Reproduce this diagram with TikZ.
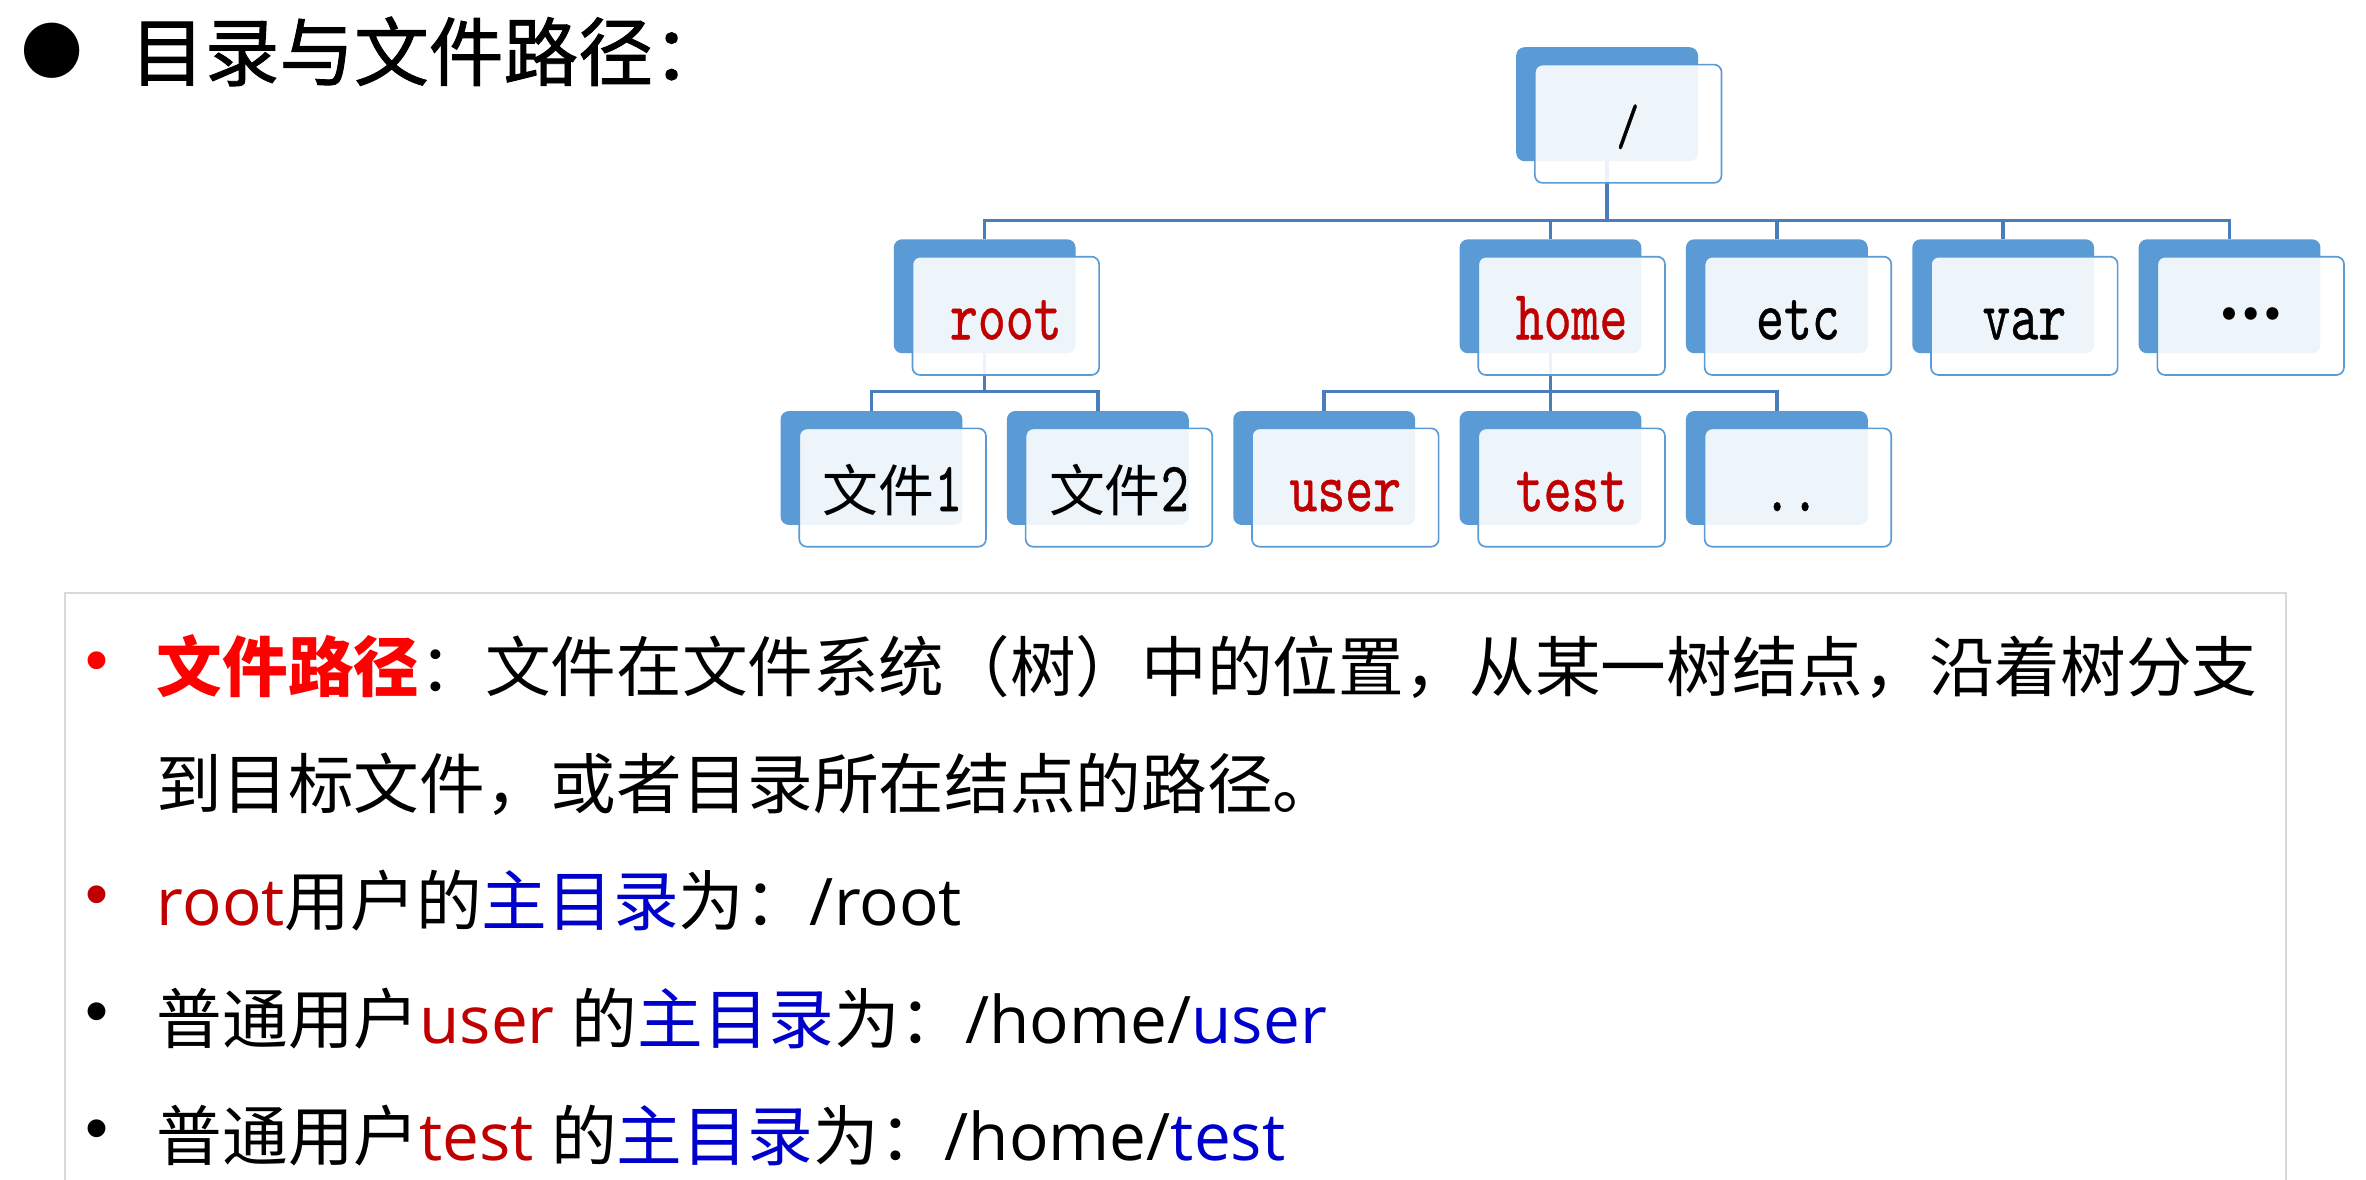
\documentclass[tikz,border=0pt]{standalone}
\usepackage{fontspec}
\newfontfamily\cjk{Noto Sans CJK SC}
\newfontfamily\cjktitle{Noto Sans CJK SC}[FakeBold=1.2]
\newfontfamily\lat{Open Sans}
\newfontfamily\boxtt{lmmono10-regular.otf}[FakeStretch=0.75,FakeBold=0.6]
\newfontfamily\dejavu{DejaVu Sans}
\newfontfamily\libsans{Liberation Sans}
\usetikzlibrary{backgrounds}
\definecolor{boxblue}{HTML}{5B9BD5}
\definecolor{connblue}{HTML}{4A7EBB}
\definecolor{pred}{HTML}{FF0000}
\definecolor{dred}{HTML}{C00000}
\definecolor{blu}{HTML}{0000CC}
\definecolor{framegray}{HTML}{D9D9D9}
\tikzset{
  backbox/.style={rectangle, rounded corners=5.5pt, fill=boxblue, minimum width=120.5pt, minimum height=75.5pt, inner sep=0pt, outer sep=0pt, anchor=north west},
  frontbox/.style={rectangle, rounded corners=5pt, fill=white, fill opacity=0.9, draw=boxblue, line width=1.1pt, minimum width=123.7pt, minimum height=78.4pt, inner sep=0pt, outer sep=0pt, anchor=north west},
  lbl/.style={anchor=base, inner sep=0pt, outer sep=0pt, font={\boxtt\fontsize{47}{52}\selectfont}},
  conn/.style={draw=connblue, line width=2.3pt},
  bodyline/.style={anchor=base west, inner sep=0pt, outer sep=0pt, font={\cjk\fontsize{43.5}{50}\selectfont}},
  bul/.style={anchor=center, inner sep=0pt, outer sep=0pt, font={\libsans\fontsize{43.5}{50}\selectfont}},
}
\newcommand\tnode[4]{%
  \node[backbox] (#1B) at (#2,#3) {};
  \node[frontbox] (#1F) at (#2+12.4,#3+11.5) {};
  \node[lbl] (#1T) at (#2+74.25,#3+66.3) {#4};}
\begin{document}
\begin{tikzpicture}[x=1pt,y=-1pt]
\useasboundingbox (0,0) rectangle (1568,782);
% title
\node[anchor=center, inner sep=0pt, font={\dejavu\fontsize{48}{50}\selectfont}] (tbul) at (34.5,33.7) {●};
\node[anchor=base west, inner sep=0pt, font={\cjktitle\fontsize{49.5}{52}\selectfont}] (title) at (86,53) {目录与文件路径：};
% tree
\node[backbox] (slashB) at (1004.8,31.3) {};
\node[frontbox] (slashF) at (1017.2,42.8) {};
\node[anchor=center, inner sep=0pt, font={\boxtt\fontsize{38}{40}\selectfont}] (slashT) at (1078.8,84) {/};
\tnode{root}{592.3}{158.6}{\textcolor{dred}{root}}
\tnode{home}{967.3}{158.6}{\textcolor{dred}{home}}
\tnode{etc}{1117.3}{158.6}{etc}
\tnode{var}{1267.3}{158.6}{var}
\node[backbox] (moreB) at (1417.3,158.6) {};
\node[frontbox] (moreF) at (1429.7,170.1) {};
\node[anchor=center, inner sep=0pt, font={\cjk\bfseries\fontsize{38}{40}\selectfont}] (moreT) at (1491.5,208) {…};
\tnode{fa}{517.3}{272.4}{{\cjk\fontsize{37}{40}\selectfont 文件}1}
\tnode{fb}{667.3}{272.4}{{\cjk\fontsize{37}{40}\selectfont 文件}2}
\tnode{user}{817.3}{272.4}{\textcolor{dred}{user}}
\tnode{test}{967.3}{272.4}{\textcolor{dred}{test}}
\node[backbox] (ddB) at (1117.3,272.4) {};
\node[frontbox] (ddF) at (1129.7,283.9) {};
\node[lbl] (ddT) at (1187,338.7) {..};
\coordinate (ytop) at (0,146.2);
\coordinate (yrow) at (0,259.6);
\begin{pgfonlayer}{background}
\fill[white] (0,0) rectangle (1568,782);
\draw[conn] (slashB.south) -- (slashB.south |- ytop) -| (rootB.north);
\draw[conn] (slashB.south |- ytop) -| (homeB.north);
\draw[conn] (slashB.south |- ytop) -| (etcB.north);
\draw[conn] (slashB.south |- ytop) -| (varB.north);
\draw[conn] (slashB.south |- ytop) -| (moreB.north);
\draw[conn] (rootB.south) -- (rootB.south |- yrow) -| (faB.north);
\draw[conn] (rootB.south |- yrow) -| (fbB.north);
\draw[conn] (homeB.south) -- (homeB.south |- yrow) -| (userB.north);
\draw[conn] (homeB.south |- yrow) -| (testB.north);
\draw[conn] (homeB.south |- yrow) -| (ddB.north);
\end{pgfonlayer}
% text frame
\draw[framegray, line width=1.3pt] (43,784) -- (43,393) -- (1515,393) -- (1515,784);
% bullets
\node[bul, text=pred] (b1) at (64,442) {•};
\node[bul, text=dred] (b3) at (64,597.5) {•};
\node[bul] (b4) at (64,674.8) {•};
\node[bul] (b5) at (64,752.2) {•};
% body lines
\node[bodyline] (l1) at (104,458) {{\bfseries\color{pred}文件路径}：文件在文件系统（树）中的位置，从某一树结点，沿着树分支};
\node[bodyline] (l2) at (104,535.5) {到目标文件，或者目录所在结点的路径。};
\node[bodyline] (l3) at (104,613.3) {{\lat\color{dred}root}用户的{\color{blu}主目录}为：{\lat /root}};
\node[bodyline] (l4) at (104,691.5) {普通用户{\lat\color{dred}user }的{\color{blu}主目录}为：{\lat /home/}{\lat\color{blu}user}};
\node[bodyline] (l5) at (104,769) {普通用户{\lat\color{dred}test }的{\color{blu}主目录}为：{\lat /home/}{\lat\color{blu}test}};
\end{tikzpicture}
\end{document}
